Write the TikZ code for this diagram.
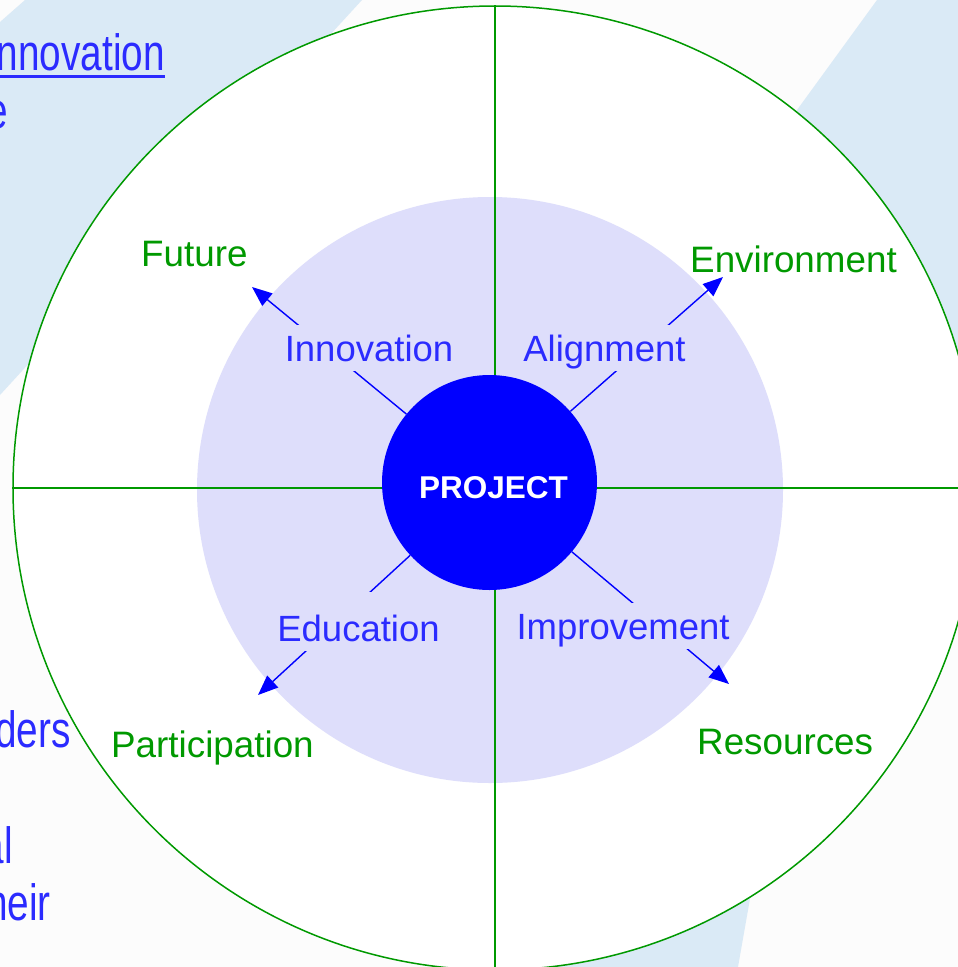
\documentclass[tikz,border=0pt]{standalone}
\usepackage{fontspec}
\setmainfont{Liberation Sans}
\newfontfamily\narrowfont{Liberation Sans}[FakeStretch=0.76]
\usetikzlibrary{arrows.meta}

\definecolor{stripe}{RGB}{218,234,246}
\definecolor{paper}{RGB}{252,252,252}
\definecolor{field}{RGB}{222,222,251}
\definecolor{leaf}{RGB}{0,153,0}
\definecolor{ink}{RGB}{43,43,255}
\definecolor{core}{RGB}{0,0,255}

\tikzset{
  tag/.style={fill=field, text=ink, anchor=base, inner xsep=4pt, inner ysep=0pt,
    text height=36pt, text depth=10pt, font=\fontsize{36.5}{40}\selectfont},
  goal/.style={text=leaf, inner sep=0pt, anchor=base west, font=\fontsize{36.8}{40}\selectfont},
  spoke/.style={draw=core, line width=1.4pt, -{Triangle[length=20pt,width=16pt]}},
  slide/.style={text=ink, inner sep=0pt, anchor=base east, font=\narrowfont\fontsize{51}{56}\selectfont},
}

\begin{document}
\begin{tikzpicture}[x=1pt,y=-1pt]
  \clip (0,0) rectangle (958,967);
  \fill[paper] (0,0) rectangle (958,967);
  % slanted bands behind the wheel
  \fill[stripe] (25,0) -- (362,0) -- (0,395) -- (0,22) -- cycle;
  \fill[stripe] (877,0) -- (958,0) -- (958,500) -- (751,893) -- (738,967) -- (520,967) -- (797,110) -- cycle;

  % wheel: rim, inner field, quadrant lines
  \node[circle, draw=leaf, line width=1.5pt, fill=white, minimum size=964pt, inner sep=0pt] (rim) at (495,488) {};
  \node[circle, fill=field, minimum size=586pt, inner sep=0pt] (field) at (490,490) {};
  \draw[leaf, line width=1.2pt] (rim.north) -- (rim.south) (rim.west) -- (rim.east);

  \node[circle, fill=core, minimum size=215pt, inner sep=0pt] (hub) at (489.5,482.5) {};
  \node[text=white, inner sep=0pt, font=\fontsize{31.5}{36}\selectfont\bfseries,
    xshift=4pt, yshift=-5pt] (project) at (hub.center) {PROJECT};

  % spokes out of the hub
  \coordinate (future-tip) at (252,287);
  \coordinate (environment-tip) at (723,277);
  \coordinate (participation-tip) at (258,695);
  \coordinate (resources-tip) at (729,684);
  \foreach \t in {future,environment,participation,resources}
    \draw[spoke] (hub) -- (\t-tip);

  \node[tag] (innovation) at (369,361) {Innovation};
  \node[tag] (alignment) at (604.5,361) {Alignment};
  \node[tag, text height=49pt] (education) at (358.5,641) {Education};
  \node[tag] (improvement) at (623,639) {Improvement};

  \node[goal] (future) at (141,266) {Future};
  \node[goal] (environment) at (690,272) {Environment};
  \node[goal] (participation) at (111,757) {Participation};
  \node[goal] (resources) at (697,754) {Resources};

  % slide text running off the left edge
  \node[slide] (s1) at (165,70) {nnovation};
  \draw[ink, line width=3.5pt] ([yshift=-6.5pt]s1.base west) -- ([yshift=-6.5pt]s1.base east);
  \node[slide] (s2) at (8,128) {e};
  \node[slide] (s3) at (71,747) {ders};
  \node[slide] (s4) at (13,863) {al};
  \node[slide] (s5) at (51,920) {heir};
\end{tikzpicture}
\end{document}
